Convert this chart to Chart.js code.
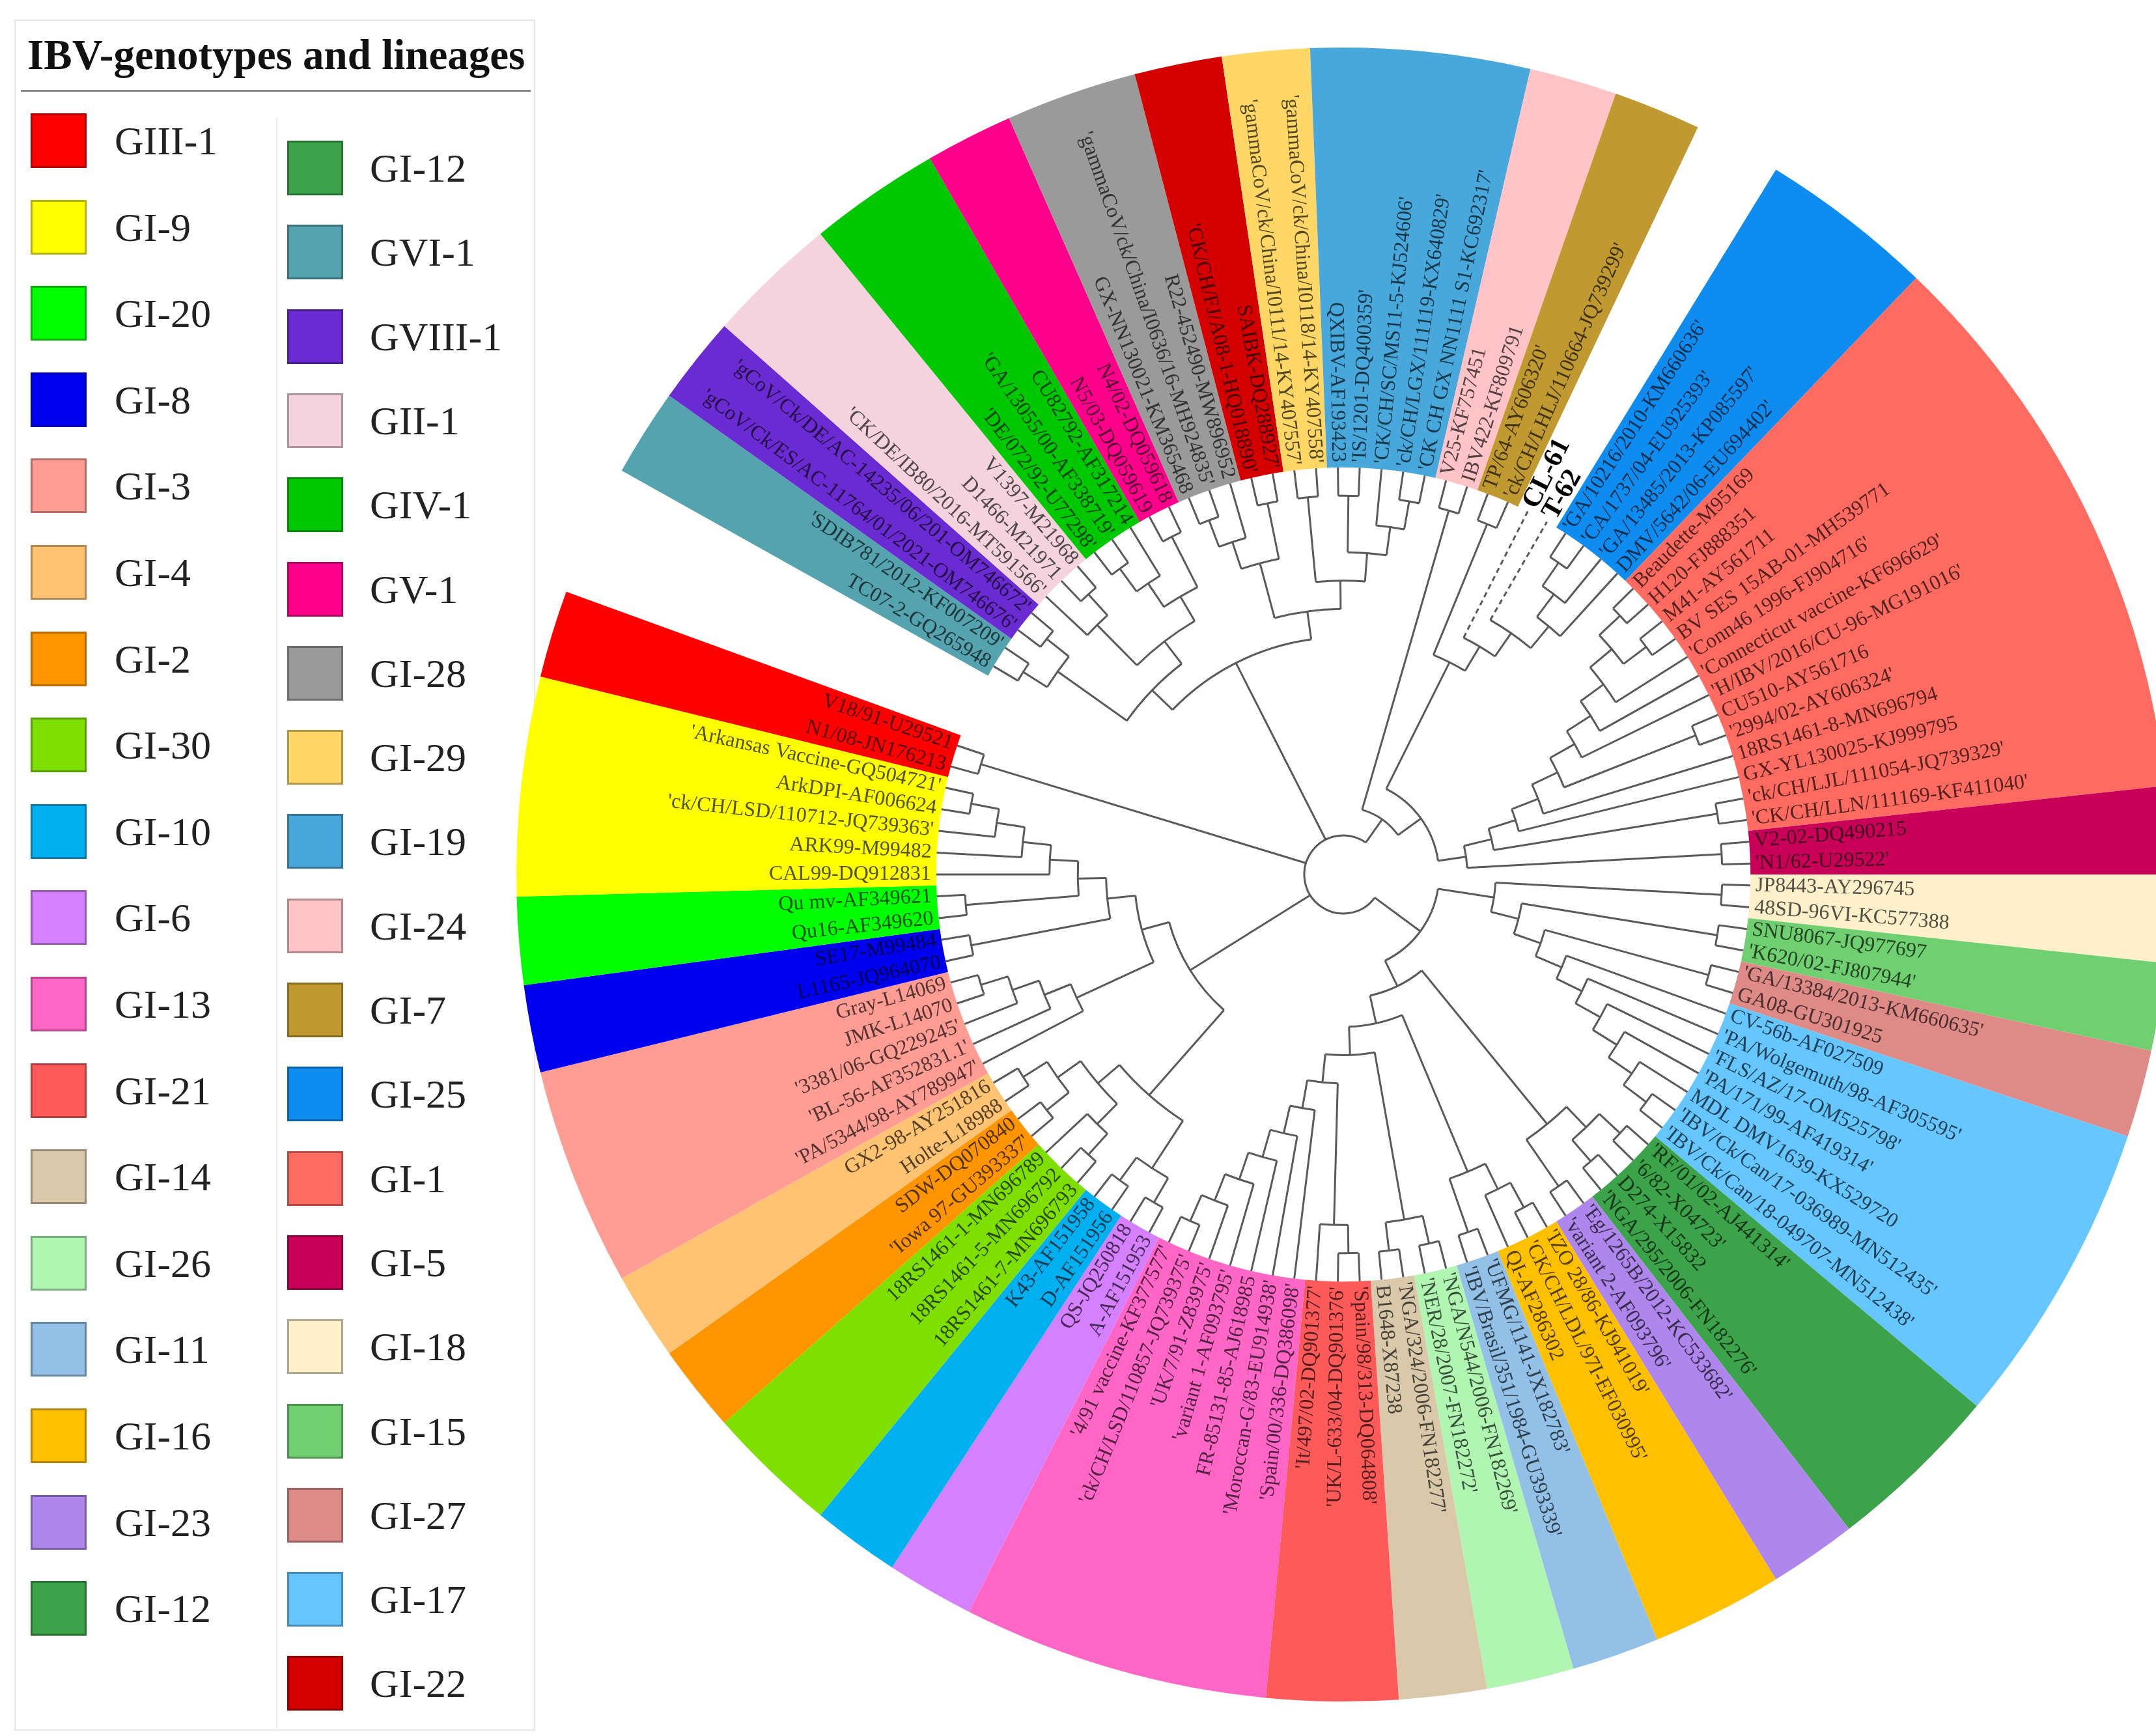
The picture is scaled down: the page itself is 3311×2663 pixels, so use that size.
<!DOCTYPE html>
<html>
<head>
<meta charset="utf-8">
<script src="https://cdn.jsdelivr.net/npm/chart.js@4.4.1/dist/chart.umd.min.js"></script>
<style>
  html, body { margin: 0; padding: 0; background: #fff; overflow: hidden; }
  body { width: 3311px; height: 2663px; position: relative; font-family: "Liberation Serif", serif; }
  #panel { position: absolute; left: 22px; top: 30px; width: 800px; height: 2628px; border: 2px solid #e6e6e6; box-sizing: border-box; }
  #legendTitle { position: absolute; left: 42px; top: 52px; font-size: 65px; line-height: 64px; font-weight: bold; color: #111; white-space: nowrap; }
  #titleRule { position: absolute; left: 32px; top: 138px; width: 783px; height: 3px; background: #8a8a8a; }
  #colRule { position: absolute; left: 424px; top: 180px; width: 2px; height: 2475px; background: #ececec; }
  .swatch { position: absolute; width: 86px; height: 84px; border: 3px solid #555; box-sizing: border-box; }
  .legText { position: absolute; font-size: 62px; line-height: 62px; color: #222; white-space: nowrap; }
  #tree { position: absolute; left: 763px; top: 43px; }
</style>
</head>
<body>
<div id="panel"></div>
<div id="legendTitle">IBV-genotypes and lineages</div>
<div id="titleRule"></div>
<div id="colRule"></div>
<canvas id="tree" width="2600" height="2600"></canvas>
<script>
// lineages around the circle, clockwise from 3 o'clock, with number of sequences in each
const segmentNames = ["GI-18", "GI-15", "GI-27", "GI-17", "GI-12", "GI-23", "GI-16", "GI-11", "GI-26", "GI-14",
  "GI-21", "GI-13", "GI-6", "GI-10", "GI-30", "GI-2", "GI-4", "GI-3", "GI-8", "GI-20", "GI-9", "GIII-1", "gap",
  "GVI-1", "GVIII-1", "GII-1", "GIV-1", "GV-1", "GI-28", "GI-22", "GI-29", "GI-19", "GI-24", "GI-7", "This study",
  "GI-25", "GI-1", "GI-5"];
const segmentCounts = [2, 2, 2, 7, 4, 2, 3, 2, 2, 2,
  3, 7, 2, 2, 3, 2, 2, 5, 2, 2, 5, 2, 3,
  2, 2, 3, 3, 2, 3, 2, 2, 5, 2, 2, 2,
  4, 13, 2];

// tip labels in the same clockwise order
const leafNames = [
  "JP8443-AY296745", "48SD-96VI-KC577388",
  "SNU8067-JQ977697", "'K620/02-FJ807944'",
  "'GA/13384/2013-KM660635'", "GA08-GU301925",
  "CV-56b-AF027509", "'PA/Wolgemuth/98-AF305595'", "'FLS/AZ/17-OM525798'", "'PA/171/99-AF419314'",
  "MDL DMV1639-KX529720", "'IBV/Ck/Can/17-036989-MN512435'", "'IBV/Ck/Can/18-049707-MN512438'",
  "'RF/01/02-AJ441314'", "'6/82-X04723'", "D274-X15832", "'NGA/295/2006-FN182276'",
  "'Eg/1265B/2012-KC533682'", "'variant 2-AF093796'",
  "'IZO 28/86-KJ941019'", "'CK/CH/LDL/97I-EF030995'", "QI-AF286302",
  "'UFMG/1141-JX182783'", "'IBV/Brasil/351/1984-GU393339'",
  "'NGA/N544/2006-FN182269'", "'NER/28/2007-FN182272'",
  "'NGA/324/2006-FN182277'", "B1648-X87238",
  "'Spain/98/313-DQ064808'", "'UK/L-633/04-DQ901376'", "'It/497/02-DQ901377'",
  "'Spain/00/336-DQ386098'", "'Moroccan-G/83-EU914938'", "FR-85131-85-AJ618985", "'variant 1-AF093795'",
  "'UK/7/91-Z83975'", "'ck/CH/LSD/110857-JQ739375'", "'4/91 vaccine-KF377577'",
  "A-AF151953", "QS-JQ250818",
  "D-AF151956", "K43-AF151958",
  "18RS1461-7-MN696793", "18RS1461-5-MN696792", "18RS1461-1-MN696789",
  "'Iowa 97-GU393337'", "SDW-DQ070840",
  "Holte-L18988", "GX2-98-AY251816",
  "'PA/5344/98-AY789947'", "'BL-56-AF352831.1'", "'3381/06-GQ229245'", "JMK-L14070", "Gray-L14069",
  "L1165-JQ964070", "SE17-M99484",
  "Qu16-AF349620", "Qu mv-AF349621",
  "CAL99-DQ912831", "ARK99-M99482", "'ck/CH/LSD/110712-JQ739363'", "ArkDPI-AF006624", "'Arkansas Vaccine-GQ504721'",
  "N1/08-JN176213", "V18/91-U29521",
  "TC07-2-GQ265948", "'SDIB781/2012-KF007209'",
  "'gCoV/Ck/ES/AC-11764/01/2021-OM746676'", "'gCoV/Ck/DE/AC-14235/06/201-OM746672'",
  "'CK/DE/IB80/2016-MT591566'", "D1466-M21971", "V1397-M21968",
  "'DE/072/92-U77298'", "'GA/13055/00-AF338719'", "CU82792-AF317214",
  "N5/03-DQ059619", "N4/02-DQ059618",
  "GX-NN130021-KM365468", "'gammaCoV/ck/China/I0636/16-MH924835'", "R22-452490-MW896952",
  "'CK/CH/FJ/A08-1-HQ018890'", "SAIBK-DQ288927'",
  "'gammaCoV/ck/China/I0111/14-KY407557'", "'gammaCoV/ck/China/I0118/14-KY407558'",
  "QXIBV-AF193423", "'IS/1201-DQ400359'", "'CK/CH/SC/MS11-5-KJ524606'", "'ck/CH/LGX/111119-KX640829'",
  "'CK CH GX NN1111 S1-KC692317'",
  "V25-KF757451", "IBV422-KF809791",
  "TP/64-AY606320'", "'ck/CH/LHLJ/110664-JQ739299'",
  "CL-61", "T-62",
  "'GA/10216/2010-KM660636'", "'CA/1737/04-EU925393'", "'GA/13485/2013-KP085597'", "DMV/5642/06-EU694402'",
  "Beaudette-M95169", "H120-FJ888351", "M41-AY561711", "BV SES 15AB-01-MH539771", "'Conn46 1996-FJ904716'",
  "'Connecticut vaccine-KF696629'", "'H/IBV/2016/CU-96-MG191016'", "CU510-AY561716", "'2994/02-AY606324'",
  "18RS1461-8-MN696794", "GX-YL130025-KJ999795", "'ck/CH/LJL/111054-JQ739329'", "'CK/CH/LLN/111169-KF411040'",
  "V2-02-DQ490215", "'N1/62-U29522'"
];

const legendLeft = ["GIII-1", "GI-9", "GI-20", "GI-8", "GI-3", "GI-4", "GI-2", "GI-30", "GI-10", "GI-6",
  "GI-13", "GI-21", "GI-14", "GI-26", "GI-11", "GI-16", "GI-23", "GI-12"];
const legendRight = ["GI-12", "GVI-1", "GVIII-1", "GII-1", "GIV-1", "GV-1", "GI-28", "GI-29", "GI-19", "GI-24",
  "GI-7", "GI-25", "GI-1", "GI-5", "GI-18", "GI-15", "GI-27", "GI-17", "GI-22"];

// tree topology, leaves are indexes into leafNames
const gi18 = [0, 1], gi15 = [2, 3], gi27 = [4, 5];
const gi17 = [6, [7, [8, [9, [10, [11, 12]]]]]];
const gi12 = [[13, 14], [15, 16]], gi23 = [17, 18], gi16 = [[19, 20], 21];
const gi11 = [22, 23], gi26 = [24, 25], gi14 = [26, 27], gi21 = [[28, 29], 30];
const gi13 = [31, [32, [33, [34, [35, [36, 37]]]]]];
const gi6 = [38, 39], gi10 = [40, 41], gi30 = [[42, 43], 44], gi2 = [45, 46], gi4 = [47, 48];
const gi3 = [49, [50, [51, [52, 53]]]], gi8 = [54, 55], gi20 = [56, 57];
const gi9 = [58, [59, [60, [61, 62]]]], giii1 = [63, 64];
const gvi1 = [65, 66], gviii1 = [67, 68], gii1 = [69, [70, 71]], giv1 = [[72, 73], 74], gv1 = [75, 76];
const gi28 = [[77, 78], 79], gi22 = [80, 81], gi29 = [82, 83], gi19 = [[84, 85], [86, [87, 88]]];
const gi24 = [89, 90], gi7 = [91, 92], gi25 = [[[95, 96], 97], 98];
const gi1 = [[[[[[[[[99, 100], [101, 102]], 103], 104], 105], [106, 107]], 108], 109], [110, 111]];
const gi5 = [112, 113];
const treeRoot = [
  [[gi18, [gi15, [gi27, gi17]]], [[gi12, gi23], [[gi16, gi11], [[gi26, gi14], [gi21, gi13]]]]],
  [[[gi6, gi10], [gi30, [gi2, gi4]]], [gi3, [gi8, [gi20, gi9]]]],
  giii1,
  [[[gvi1, gviii1], [gii1, [giv1, gv1]]], [[gi28, gi22], [gi29, gi19]]],
  [gi24, [[gi7, [93, [94, gi25]]], [gi1, gi5]]]
];

const cladeColors = {
  "GIII-1": "#ff0000", "GI-9": "#ffff00", "GI-20": "#00ff00", "GI-8": "#0000f0", "GI-3": "#ff9c94",
  "GI-4": "#ffc374", "GI-2": "#ff9500", "GI-30": "#7fe000", "GI-10": "#00b0f0", "GI-6": "#d580ff",
  "GI-13": "#ff66c6", "GI-21": "#ff5a5a", "GI-14": "#d9c8a9", "GI-26": "#b0f5b2", "GI-11": "#92c0e6",
  "GI-16": "#ffc000", "GI-23": "#ae86ec", "GI-12": "#3ca34a", "GVI-1": "#56a3b0", "GVIII-1": "#6b2bd2",
  "GII-1": "#f4d3de", "GIV-1": "#00c800", "GV-1": "#ff008c", "GI-28": "#9a9a9a", "GI-29": "#ffd766",
  "GI-19": "#48a8dc", "GI-24": "#ffc3c8", "GI-7": "#c09a30", "GI-25": "#0f8cf0", "GI-1": "#ff6b60",
  "GI-5": "#c80058", "GI-18": "#fdf0cb", "GI-15": "#70cf70", "GI-27": "#de8b87", "GI-17": "#66c6ff",
  "GI-22": "#d40000"
};

function shade(hex, f) {
  const v = parseInt(hex.slice(1), 16);
  const r = Math.round(((v >> 16) & 255) * f), g = Math.round(((v >> 8) & 255) * f), b = Math.round((v & 255) * f);
  return "rgb(" + r + "," + g + "," + b + ")";
}

function addLegendColumn(list, swatchX, textX, y0, dy) {
  list.forEach((name, i) => {
    const cy = y0 + i * dy;
    const sw = document.createElement("div");
    sw.className = "swatch";
    sw.style.left = swatchX + "px";
    sw.style.top = (cy - 42) + "px";
    sw.style.background = cladeColors[name];
    sw.style.borderColor = shade(cladeColors[name], 0.7);
    document.body.appendChild(sw);
    const tx = document.createElement("div");
    tx.className = "legText";
    tx.textContent = name;
    tx.style.left = textX + "px";
    tx.style.top = (cy - 31) + "px";
    document.body.appendChild(tx);
  });
}
addLegendColumn(legendLeft, 47, 176, 216, 132.6);
addLegendColumn(legendRight, 441, 568, 258, 129.3);

const treePlugin = {
  id: "treeAndTips",
  afterDatasetsDraw(chart) {
    const ctx = chart.ctx;
    const arcs = chart.getDatasetMeta(0).data;
    const leafAngle = [], leafSeg = [];
    arcs.forEach((arc, s) => {
      if (segmentNames[s] === "gap") return;
      const p = arc.getProps(["startAngle", "endAngle"], true);
      const step = (p.endAngle - p.startAngle) / segmentCounts[s];
      for (let i = 0; i < segmentCounts[s]; i++) {
        leafAngle.push(p.startAngle + step * (i + 0.5));
        leafSeg.push(segmentNames[s]);
      }
    });
    const g = arcs[0].getProps(["x", "y", "innerRadius"], true);
    const cx = g.x, cy = g.y, tipR = g.innerRadius;
    const rootR = 60;

    const height = n => typeof n === "number" ? 0 : 1 + Math.max(...n.map(height));
    const angle = n => typeof n === "number" ? leafAngle[n] : (angle(n[0]) + angle(n[n.length - 1])) / 2;
    const levelStep = (tipR - rootR) / height(treeRoot);
    const radius = n => typeof n === "number" ? tipR : tipR - height(n) * levelStep;

    ctx.save();
    ctx.strokeStyle = "#5a5a5a";
    ctx.lineWidth = 3;
    function drawNode(node) {
      const r = radius(node);
      ctx.setLineDash([]);
      ctx.beginPath();
      ctx.arc(cx, cy, r, angle(node[0]), angle(node[node.length - 1]));
      ctx.stroke();
      node.forEach(ch => {
        const a = angle(ch), cr = radius(ch);
        const isNew = typeof ch === "number" && leafSeg[ch] === "This study";
        ctx.setLineDash(isNew ? [8, 6] : []);
        ctx.beginPath();
        ctx.moveTo(cx + r * Math.cos(a), cy + r * Math.sin(a));
        ctx.lineTo(cx + cr * Math.cos(a), cy + cr * Math.sin(a));
        ctx.stroke();
        if (typeof ch !== "number") drawNode(ch);
      });
    }
    drawNode(treeRoot);
    ctx.setLineDash([]);

    // tip labels
    ctx.textBaseline = "middle";
    leafNames.forEach((name, i) => {
      const a = leafAngle[i];
      const isNew = leafSeg[i] === "This study";
      ctx.font = isNew ? 'bold 42px "Liberation Serif"' : '32px "Liberation Serif"';
      ctx.fillStyle = isNew ? "#000" : shade(cladeColors[leafSeg[i]], 0.33);
      ctx.save();
      ctx.translate(cx, cy);
      if (Math.cos(a) >= 0) {
        ctx.rotate(a);
        ctx.textAlign = "left";
        ctx.fillText(name, tipR + 8, 0);
      } else {
        ctx.rotate(a + Math.PI);
        ctx.textAlign = "right";
        ctx.fillText(name, -(tipR + 8), 0);
      }
      ctx.restore();
    });
    ctx.restore();
  }
};

new Chart(document.getElementById("tree"), {
  type: "doughnut",
  data: {
    labels: segmentNames,
    datasets: [{
      data: segmentCounts,
      backgroundColor: segmentNames.map(n => cladeColors[n] || "rgba(0,0,0,0)"),
      borderWidth: 0,
      hoverOffset: 0
    }]
  },
  options: {
    responsive: false,
    devicePixelRatio: 1,
    animation: false,
    events: [],
    rotation: 90,
    radius: 1270,
    cutout: 640,
    layout: { padding: 0 },
    plugins: {
      legend: { display: false },
      tooltip: { enabled: false }
    }
  },
  plugins: [treePlugin]
});
</script>
</body>
</html>
